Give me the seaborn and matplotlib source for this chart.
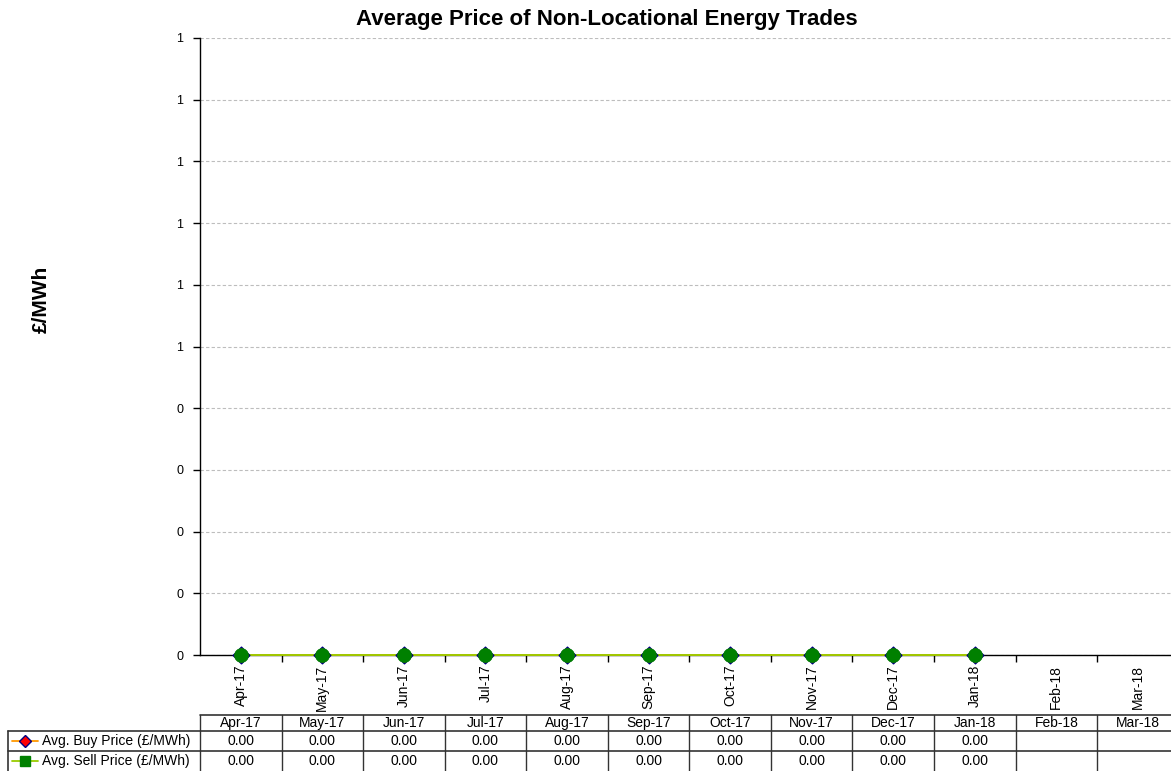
import math
import numpy as np
import pandas as pd
import matplotlib
matplotlib.use("Agg")
import matplotlib.pyplot as plt
from matplotlib.ticker import FixedLocator, FuncFormatter
import seaborn as sns

# ---- data ----
months = ["Apr-17", "May-17", "Jun-17", "Jul-17", "Aug-17", "Sep-17",
          "Oct-17", "Nov-17", "Dec-17", "Jan-18", "Feb-18", "Mar-18"]
buy_price = [0.0, 0.0, 0.0, 0.0, 0.0, 0.0, 0.0, 0.0, 0.0, 0.0, np.nan, np.nan]
sell_price = [0.0, 0.0, 0.0, 0.0, 0.0, 0.0, 0.0, 0.0, 0.0, 0.0, np.nan, np.nan]
y_ticks = [0.0, 0.1, 0.2, 0.3, 0.4, 0.5, 0.6, 0.7, 0.8, 0.9, 1.0]
series_names = ["Avg. Buy Price (£/MWh)", "Avg. Sell Price (£/MWh)"]
title = "Average Price of Non-Locational Energy Trades"
y_label = "£/MWh"

sns.set_theme(style="white")
plt.rcParams["font.family"] = ["Liberation Sans", "DejaVu Sans"]
for k in ["text.color", "axes.labelcolor", "xtick.color", "ytick.color"]:
    plt.rcParams[k] = "black"

W, H = 1171, 771
fig = plt.figure(figsize=(W / 100, H / 100), dpi=100)

# axes in pixel coordinates
ax_l, ax_r, ax_t, ax_b = 200, 1178.7, 38, 655
ax = fig.add_axes([ax_l / W, 1 - ax_b / H, (ax_r - ax_l) / W, (ax_b - ax_t) / H])

df = pd.DataFrame({"pos": np.arange(len(months)), "month": months,
                   "buy": buy_price, "sell": sell_price})

BUY_LINE, BUY_FACE, BUY_EDGE = "#FF9900", "#FF0000", "#000080"
SELL_LINE, SELL_FACE = "#99CC00", "#008000"

sns.lineplot(data=df, x="pos", y="buy", ax=ax, color=BUY_LINE, linewidth=1.3,
             clip_on=False, zorder=3)
sns.lineplot(data=df, x="pos", y="sell", ax=ax, color=SELL_LINE, linewidth=1.3,
             clip_on=False, zorder=4)
sns.scatterplot(data=df, x="pos", y="buy", ax=ax, marker="D", s=8.5 ** 2,
                color=BUY_FACE, edgecolor=BUY_EDGE, linewidth=1.0,
                clip_on=False, zorder=5)
sns.scatterplot(data=df, x="pos", y="sell", ax=ax, marker="o", s=10 ** 2,
                color=SELL_FACE, edgecolor=SELL_FACE, linewidth=0.5,
                clip_on=False, zorder=6)

ax.set_xlim(-0.5, len(months) - 0.5)
ax.set_ylim(0, 1)
ax.set_xlabel("")
ax.set_ylabel("")

# y axis
ax.yaxis.set_major_locator(FixedLocator(y_ticks))
ax.yaxis.set_major_formatter(FuncFormatter(lambda v, p: f"{math.floor(v + 0.5 + 1e-9):d}"))
ax.tick_params(axis="y", which="major", direction="out", length=5, width=1,
               color="black", labelsize=9, pad=7, left=True)
ax.grid(axis="y", linestyle=(0, (3, 2)), color="#BDBDBD", linewidth=0.8)
ax.grid(axis="x", visible=False)

# x axis: tick marks at boundaries, labels at centres
ax.xaxis.set_major_locator(FixedLocator(np.arange(len(months)) + 0.5))
ax.xaxis.set_major_formatter(FuncFormatter(lambda v, p: ""))
ax.set_xticks(np.arange(len(months)), labels=months, minor=True)
ax.tick_params(axis="x", which="major", direction="out", length=5, width=1,
               color="black", bottom=True)
ax.tick_params(axis="x", which="minor", length=0, labelsize=10, pad=7,
               labelrotation=90, bottom=True)
for lab in ax.get_xticklabels(minor=True):
    lab.set_verticalalignment("top")

for s in ["top", "right"]:
    ax.spines[s].set_visible(False)
for s in ["left", "bottom"]:
    ax.spines[s].set_color("black")
    ax.spines[s].set_linewidth(1.0)

# title and y label in figure coordinates
fig.text(607 / W, 1 - 20 / H, title, ha="center", va="center",
         fontsize=16, fontweight="bold")
fig.text(41 / W, 1 - 299 / H, y_label, ha="center", va="center",
         rotation=90, fontsize=15, fontweight="bold")

# ---- data table ----
cw = (ax_r - ax_l) / len(months)
leg_w = (ax_l - 7.5) / cw
tab_t, tab_b = 714.5, 771
tax = fig.add_axes([7.5 / W, 1 - tab_b / H, (ax_r - 7.5) / W, (tab_b - tab_t) / H])
tax.set_xlim(-0.5 - leg_w, len(months) - 0.5)
tax.set_ylim(tab_b - tab_t, 0)
tax.axis("off")
lc = "#333333"
r1, r2, r3 = 0, 16.5, 36.5
tax.plot([-0.5, len(months) - 0.5], [r1, r1], color=lc, lw=1.2, clip_on=False)
tax.plot([-0.5 - leg_w, len(months) - 0.5], [r2, r2], color=lc, lw=1.2, clip_on=False)
tax.plot([-0.5 - leg_w, len(months) - 0.5], [r3, r3], color=lc, lw=1.2, clip_on=False)
for b in np.arange(len(months) + 1) - 0.5:
    tax.plot([b, b], [r1, tab_b - tab_t], color=lc, lw=1.0, clip_on=False)
tax.plot([-0.5 - leg_w, -0.5 - leg_w], [r2, tab_b - tab_t], color=lc, lw=1.2, clip_on=False)

row_y = [(r2 + r3) / 2, (r3 + 56.5) / 2]
for i, m in enumerate(months):
    tax.text(i, (r1 + r2) / 2 + 0.5, m, ha="center", va="center", fontsize=10)
    for vals, yc in zip((buy_price, sell_price), row_y):
        v = vals[i]
        if not (isinstance(v, float) and math.isnan(v)):
            tax.text(i, yc, f"{v:.2f}", ha="center", va="center", fontsize=10)

# legend keys in the table
x0 = -0.5 - leg_w
key = [
    (BUY_LINE, "D", 6, BUY_FACE, BUY_EDGE, series_names[0]),
    (SELL_LINE, "s", 7, SELL_FACE, SELL_FACE, series_names[1]),
]
for (lcol, mk, ms, fc, ec, name), yc in zip(key, row_y):
    tax.plot([x0 + 4.5 / cw, x0 + 30.5 / cw], [yc, yc], color=lcol, lw=1.3, clip_on=False)
    tax.plot([x0 + 17.5 / cw], [yc], linestyle="none", clip_on=False,
             marker=mk, markersize=ms, markerfacecolor=fc, markeredgecolor=ec)
    tax.text(x0 + 35 / cw, yc, name, ha="left", va="center", fontsize=10)

fig.savefig("out.png", dpi=100)
